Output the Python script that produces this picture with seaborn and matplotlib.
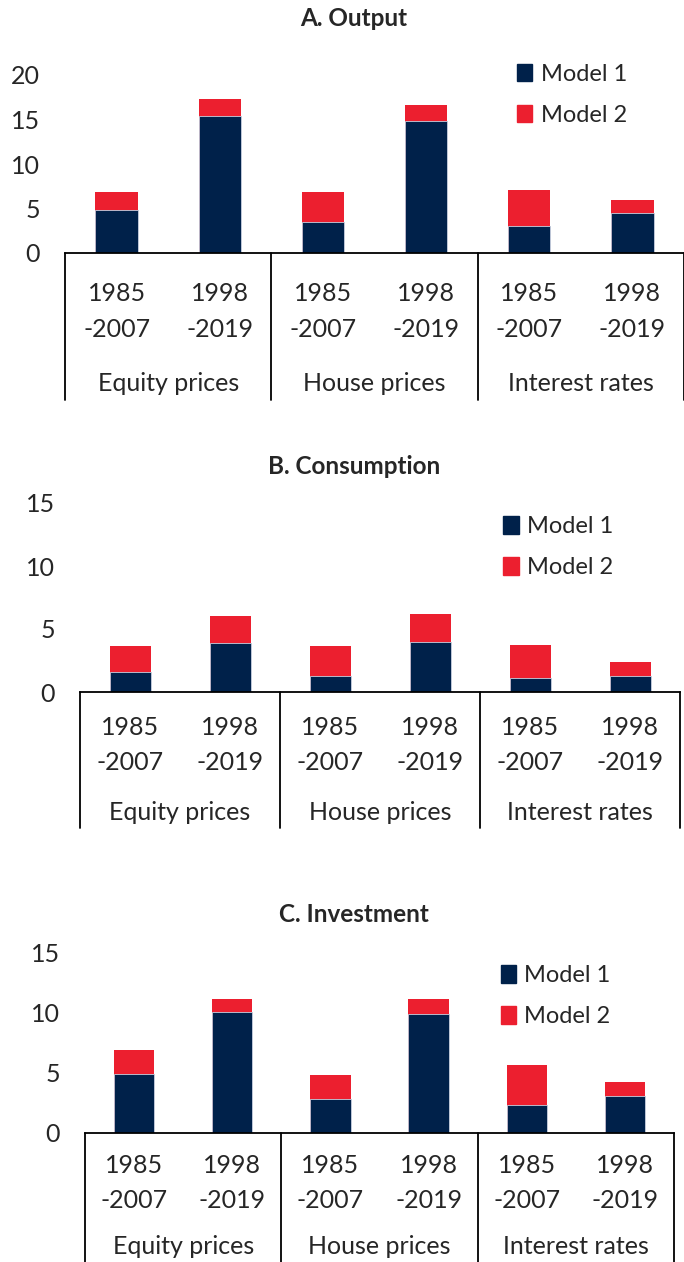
import pandas as pd
import seaborn as sns
import matplotlib.pyplot as plt
from matplotlib.patches import Patch
from matplotlib.transforms import blended_transform_factory

# Datos
grupos = ['Equity prices', 'House prices', 'Interest rates']
periodos = ['1985\n-2007', '1998\n-2019']

output_m1 = [4.8, 15.4, 3.5, 14.8, 3.0, 4.45]
output_m2 = [2.1, 1.9, 3.3, 1.8, 4.1, 1.45]
consumo_m1 = [1.55, 3.88, 1.24, 3.96, 1.1, 1.24]
consumo_m2 = [2.09, 2.12, 2.4, 2.21, 2.62, 1.16]
inversion_m1 = [4.9, 10.08, 2.85, 9.94, 2.35, 3.05]
inversion_m2 = [2.05, 1.12, 1.97, 1.26, 3.3, 1.19]

AZUL = '#00214A'
ROJO = '#EC1F2F'

sns.set_theme(style='white')
plt.rcParams['font.family'] = ['Lato', 'DejaVu Sans']

fig = plt.figure(figsize=(6.84, 12.62), dpi=100)


def panel(rect, titulo, y_titulo, m1, m2, ymax, yticks, sep, off_per, off_grp, leg_pos):
    ax = fig.add_axes(rect)
    cats = [g + ' ' + p for g in grupos for p in periodos]
    df = pd.DataFrame({'cat': cats, 'm1': m1, 'total': [a + b for a, b in zip(m1, m2)]})
    sns.barplot(data=df, x='cat', y='total', color=ROJO, saturation=1, width=0.41,
                linewidth=0, ax=ax)
    sns.barplot(data=df, x='cat', y='m1', color=AZUL, saturation=1, width=0.41,
                edgecolor='#c8d0e0', linewidth=0.6, ax=ax)
    ax.set_xlim(-0.5, 5.5)
    ax.set_ylim(0, ymax)
    ax.set_yticks(yticks)
    ax.set_yticklabels([str(t) for t in yticks])
    ax.tick_params(axis='y', length=0, pad=18, labelsize=18)
    ax.set_xticks([])
    ax.set_xlabel('')
    ax.set_ylabel('')
    for s in ['left', 'right', 'top']:
        ax.spines[s].set_visible(False)
    ax.spines['bottom'].set_color('black')
    ax.spines['bottom'].set_linewidth(1.3)

    # eje de categorias en dos niveles
    tr = blended_transform_factory(ax.transData, ax.transAxes)
    for xs in [-0.5, 1.5, 3.5, 5.5]:
        ax.plot([xs, xs], [0, sep], color='black', lw=1.3, transform=tr, clip_on=False)
    for i in range(6):
        ax.annotate(periodos[i % 2], xy=(i, 0), xycoords=tr, xytext=(0, -off_per),
                    textcoords='offset points', ha='center', va='center',
                    fontsize=18, linespacing=1.65)
    for j, g in enumerate(grupos):
        ax.annotate(g, xy=(2 * j + 0.5, 0), xycoords=tr, xytext=(0, -off_grp),
                    textcoords='offset points', ha='center', va='center', fontsize=18)

    handles = [Patch(color=AZUL, label='Model 1'), Patch(color=ROJO, label='Model 2')]
    ax.legend(handles=handles, loc='upper left', bbox_to_anchor=leg_pos, frameon=False,
              fontsize=17, handlelength=0.65, handleheight=0.75, handletextpad=0.35,
              labelspacing=0.85, borderaxespad=0)

    fig.text(354 / 684, y_titulo, titulo, ha='center', va='center',
             fontsize=17.5, fontweight='bold')
    return ax


panel([65 / 684, 1009 / 1262, 619 / 684, 178 / 1262], 'A. Output', 1 - 18 / 1262,
      output_m1, output_m2, 20, [0, 5, 10, 15, 20], -0.826, 42, 94, (0.715, 1.115))
panel([80 / 684, 570 / 1262, 600 / 684, 189 / 1262], 'B. Consumption', 1 - 467 / 1262,
      consumo_m1, consumo_m2, 15, [0, 5, 10, 15], -0.72, 38, 87, (0.69, 0.98))
panel([85 / 684, 129 / 1262, 589 / 684, 180 / 1262], 'C. Investment', 1 - 915 / 1262,
      inversion_m1, inversion_m2, 15, [0, 5, 10, 15], -0.75, 36, 82, (0.69, 0.985))

fig.savefig('out.png', dpi=100)
plt.close(fig)
